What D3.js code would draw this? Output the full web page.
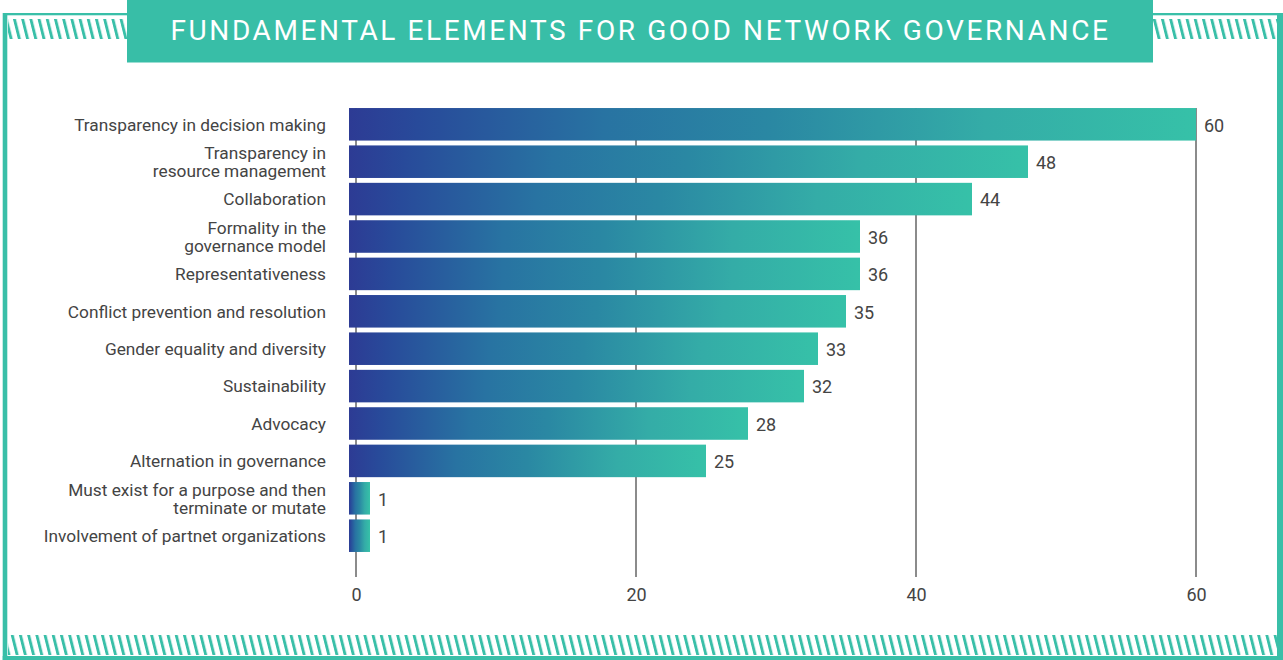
<!DOCTYPE html>
<html>
<head>
<meta charset="utf-8">
<script src="https://cdn.jsdelivr.net/npm/d3@7"></script>
<style>
  html, body { margin: 0; padding: 0; background: #fff; }
  svg { display: block; font-family: Roboto, "Noto Sans", sans-serif; }
</style>
</head>
<body>
<svg id="chart" width="1283" height="660"></svg>
<script>
// Survey results: fundamental elements for good network governance
const title = "FUNDAMENTAL ELEMENTS FOR GOOD NETWORK GOVERNANCE";
const categories = [
  "Transparency in decision making",
  "Transparency in\nresource management",
  "Collaboration",
  "Formality in the\ngovernance model",
  "Representativeness",
  "Conflict prevention and resolution",
  "Gender equality and diversity",
  "Sustainability",
  "Advocacy",
  "Alternation in governance",
  "Must exist for a purpose and then\nterminate or mutate",
  "Involvement of partnet organizations"
];
const values = [60, 48, 44, 36, 36, 35, 33, 32, 28, 25, 1, 1];
const xTicks = [0, 20, 40, 60];

const W = 1283, H = 660;
const teal = "#39bfa8";
const textColor = "#444";
const svg = d3.select("#chart");
const defs = svg.append("defs");

// Bar fill: blue to teal across each bar
const grad = defs.append("linearGradient")
  .attr("id", "barGrad")
  .attr("x1", "0%").attr("x2", "100%").attr("y1", "0%").attr("y2", "0%");
[[0, "#2d3b94"], [0.08, "#284a9a"], [0.3, "#2873a2"], [0.5, "#2a88a3"], [0.75, "#34aca7"], [1, "#36c1a8"]]
  .forEach(([o, c]) => grad.append("stop").attr("offset", o).attr("stop-color", c));

// Diagonal hatching used in the frame bands
const hatch = defs.append("pattern")
  .attr("id", "hatch")
  .attr("patternUnits", "userSpaceOnUse")
  .attr("width", 8.2).attr("height", 40)
  .attr("patternTransform", "skewX(14)");
hatch.append("rect").attr("x", 0).attr("y", 0).attr("width", 3).attr("height", 40).attr("fill", teal);

// Frame
const frame = svg.append("g");
frame.append("rect").attr("x", 3).attr("y", 13).attr("width", W - 6).attr("height", 2.3).attr("fill", teal);
frame.append("rect").attr("x", 2.7).attr("y", 13).attr("width", 4.6).attr("height", H - 13).attr("fill", teal);
frame.append("rect").attr("x", 1277).attr("y", 13).attr("width", 6).attr("height", H - 13).attr("fill", teal);
frame.append("rect").attr("x", 2.7).attr("y", 656).attr("width", W - 2.7).attr("height", 4).attr("fill", teal);
frame.append("rect").attr("x", 8).attr("y", 19).attr("width", 1269).attr("height", 20).attr("fill", "url(#hatch)");
frame.append("rect").attr("x", 8).attr("y", 635).attr("width", 1269).attr("height", 20).attr("fill", "url(#hatch)");

// Title banner
svg.append("rect").attr("x", 127).attr("y", 0).attr("width", 1026).attr("height", 62.5).attr("fill", "#38bea7");
svg.append("text")
  .attr("x", 640.5).attr("y", 39.5)
  .attr("text-anchor", "middle")
  .attr("fill", "#fff")
  .style("font-size", "28px")
  .style("letter-spacing", "2.6px")
  .text(title);

// Scales
const x = d3.scaleLinear().domain([0, 60]).range([356, 1196]);
const y = d3.scaleBand().domain(categories).range([105.6, 554.4]).paddingInner(0.13).paddingOuter(0.065);

// Vertical grid lines
svg.append("g").selectAll("line").data(xTicks).join("line")
  .attr("x1", d => x(d)).attr("x2", d => x(d))
  .attr("y1", 108).attr("y2", 577)
  .attr("stroke", "#5a5a5a").attr("stroke-width", 1.4);

// Axis tick labels
const xAxis = d3.axisBottom(x).tickValues(xTicks).tickSize(0).tickPadding(0);
const axisG = svg.append("g").attr("transform", "translate(0,588)").call(xAxis);
axisG.select(".domain").remove();
axisG.selectAll("text")
  .attr("fill", textColor)
  .attr("dy", "0.71em")
  .style("font-size", "18px")
  .style("font-family", "Roboto, sans-serif");

// Bars (they begin slightly left of the zero line)
const barStart = x(0) - 7;
svg.append("g").selectAll("rect").data(values).join("rect")
  .attr("x", barStart)
  .attr("y", (d, i) => y(categories[i]))
  .attr("width", d => x(d) - barStart)
  .attr("height", y.bandwidth())
  .attr("fill", "url(#barGrad)");

// Value labels
svg.append("g").selectAll("text").data(values).join("text")
  .attr("x", d => x(d) + 8)
  .attr("y", (d, i) => y(categories[i]) + y.bandwidth() / 2)
  .attr("dy", "0.4em")
  .attr("fill", textColor)
  .style("font-size", "18px")
  .text(d => d);

// Category labels, right aligned, possibly on two lines
const lineH = 18;
const labels = svg.append("g").selectAll("text").data(categories).join("text")
  .attr("text-anchor", "end")
  .attr("fill", textColor)
  .style("font-size", "17.3px")
  .attr("transform", d => `translate(326,${y(d) + y.bandwidth() / 2})`);
labels.each(function(d) {
  const lines = d.split("\n");
  const t = d3.select(this);
  lines.forEach((ln, k) => {
    t.append("tspan")
      .attr("x", 0)
      .attr("y", (k - (lines.length - 1) / 2) * lineH)
      .attr("dy", "0.36em")
      .text(ln);
  });
});
</script>
</body>
</html>
